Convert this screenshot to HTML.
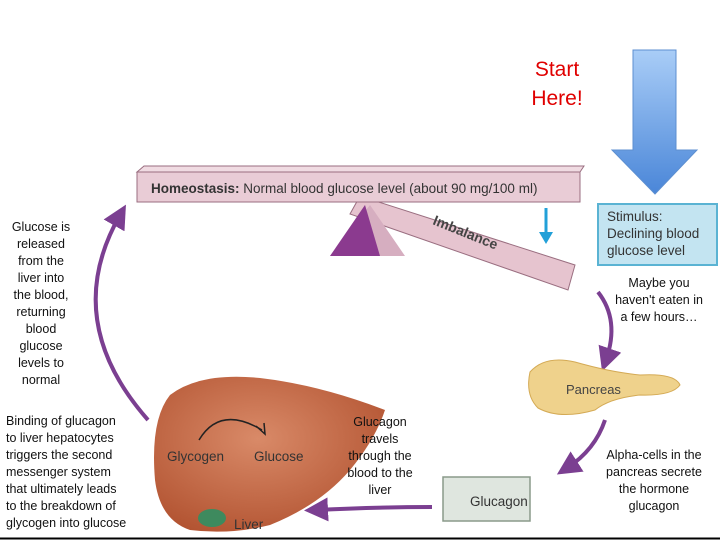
<!DOCTYPE html>
<html><head><style>
body{margin:0;width:720px;height:540px;background:#fff;position:relative;overflow:hidden;font-family:"Liberation Sans",sans-serif}
.t{position:absolute;font-size:12.5px;line-height:17px;color:#111;text-align:center;white-space:nowrap}
</style></head><body>
<svg width="720" height="540" style="position:absolute;left:0;top:0">
<defs>
<linearGradient id="bg" x1="0" y1="0" x2="0" y2="1"><stop offset="0" stop-color="#a9cdf7"/><stop offset="1" stop-color="#4a86d8"/></linearGradient>
<radialGradient id="lv" cx="0.45" cy="0.4" r="0.7"><stop offset="0" stop-color="#d98a68"/><stop offset="1" stop-color="#b0502e"/></radialGradient>
<marker id="ah" markerWidth="6" markerHeight="6" refX="3" refY="3" orient="auto" markerUnits="strokeWidth"><path d="M0,0 L6,3 L0,6 z" fill="#7b3f91"/></marker>
</defs>
<path d="M633,50 H676 V150 H697 L655,194 L612,150 H633 Z" fill="url(#bg)" stroke="#5d8fd0"/>
<path d="M360,196 L575,265 L568,290 L350,214 Z" fill="#e6c4cf" stroke="#9a6e80"/>
<path d="M330,256 L370,205 L405,256 Z" fill="#d6aec0"/>
<path d="M330,256 L365,205 L380,256 Z" fill="#8b3a8f"/>
<path d="M137,172 L144,166 L584,166 L580,172 Z" fill="#f0dbe2" stroke="#9a6e80"/>
<rect x="137" y="172" width="443" height="30" fill="#e9ccd6" stroke="#9a6e80"/>
<text x="151" y="193" font-size="13.5" fill="#333"><tspan font-weight="bold">Homeostasis:</tspan> Normal blood glucose level (about 90 mg/100 ml)</text>
<text x="0" y="0" font-size="14" font-weight="bold" fill="#444" transform="translate(432,224) rotate(22)">Imbalance</text>
<line x1="546" y1="208" x2="546" y2="234" stroke="#22a0d8" stroke-width="3"/>
<path d="M539,232 L553,232 L546,244 Z" fill="#22a0d8"/>
<rect x="598" y="204" width="119" height="61" fill="#c3e4f1" stroke="#5ab3d3" stroke-width="2"/>
<text x="607" y="221" font-size="13.5" fill="#333">Stimulus:</text>
<text x="607" y="238" font-size="13.5" fill="#333">Declining blood</text>
<text x="607" y="255" font-size="13.5" fill="#333">glucose level</text>
<path d="M148,420 Q60,320 120,215" fill="none" stroke="#7b3f91" stroke-width="4" marker-end="url(#ah)"/>
<path d="M598,292 Q620,320 606,360" fill="none" stroke="#7b3f91" stroke-width="4" marker-end="url(#ah)"/>
<path d="M605,420 Q595,450 567,468" fill="none" stroke="#7b3f91" stroke-width="4" marker-end="url(#ah)"/>
<path d="M432,507 Q380,507 316,510" fill="none" stroke="#7b3f91" stroke-width="4" marker-end="url(#ah)"/>
<path d="M530,372 Q545,355 575,362 Q610,372 640,375 Q675,373 680,385 Q672,396 640,395 Q610,398 595,410 Q560,420 538,408 Q525,395 530,372 Z" fill="#efd28c" stroke="#d4aa55"/>
<text x="566" y="394" font-size="13" fill="#444">Pancreas</text>
<rect x="443" y="477" width="87" height="44" fill="#dfe6df" stroke="#8a9a8a" stroke-width="1.5"/>
<text x="470" y="506" font-size="13.5" fill="#333">Glucagon</text>
<path d="M170,395 Q200,372 260,378 Q320,385 385,410 Q375,440 350,470 Q320,505 270,525 Q230,535 190,530 Q160,520 155,480 Q150,420 170,395 Z" fill="url(#lv)"/>
<ellipse cx="212" cy="518" rx="14" ry="9" fill="#3e8a5e"/>
<path d="M199,440 Q220,405 262,430" fill="none" stroke="#222" stroke-width="1.5"/>
<path d="M256,426 L265,434 L264,423" fill="none" stroke="#222" stroke-width="1.5"/>
<text x="167" y="461" font-size="13.5" fill="#333">Glycogen</text>
<text x="254" y="461" font-size="13.5" fill="#333">Glucose</text>
<text x="234" y="529" font-size="13.5" fill="#333">Liver</text>
<line x1="0" y1="538.5" x2="720" y2="538.5" stroke="#000" stroke-width="2"/>
</svg>
<div style="position:absolute;left:500px;top:55px;width:114px;text-align:center;color:#e00000;font-size:21px;line-height:29px">Start<br>Here!</div>
<div class="t" style="left:0;top:219px;width:82px">Glucose is<br>released<br>from the<br>liver into<br>the blood,<br>returning<br>blood<br>glucose<br>levels to<br>normal</div>
<div class="t" style="left:6px;top:413px;width:145px;text-align:left">Binding of glucagon<br>to liver hepatocytes<br>triggers the second<br>messenger system<br>that ultimately leads<br>to the breakdown of<br>glycogen into glucose</div>
<div class="t" style="left:340px;top:414px;width:80px">Glucagon<br>travels<br>through the<br>blood to the<br>liver</div>
<div class="t" style="left:600px;top:275px;width:118px">Maybe you<br>haven't eaten in<br>a few hours…</div>
<div class="t" style="left:595px;top:447px;width:118px">Alpha-cells in the<br>pancreas secrete<br>the hormone<br>glucagon</div>
</body></html>
